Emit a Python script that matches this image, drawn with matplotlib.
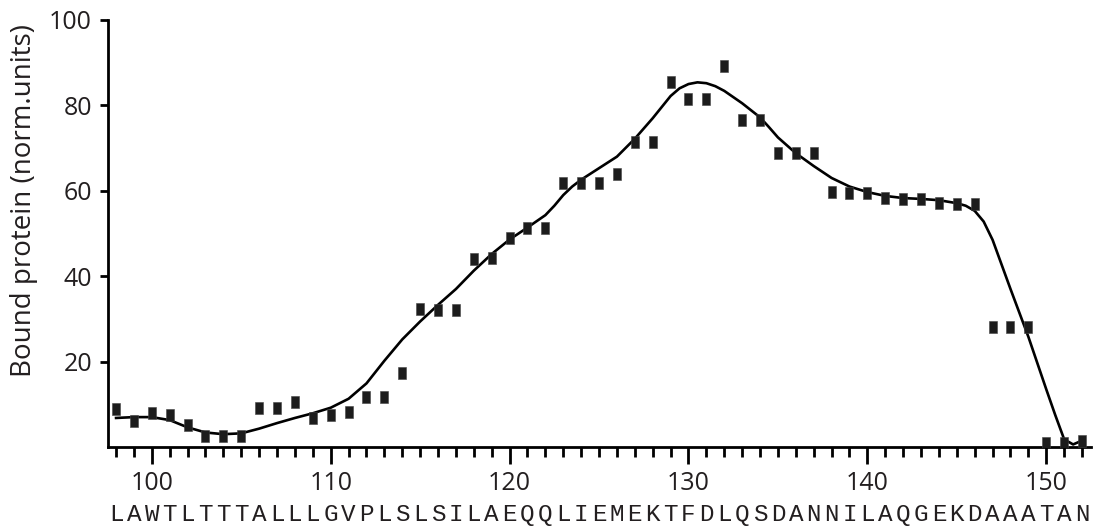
import matplotlib.pyplot as plt
from matplotlib.ticker import MultipleLocator

# residue positions and measured binding
residues = list(range(98, 153))
bound = [8.9, 6.1, 8.0, 7.5, 5.2, 2.6, 2.5, 2.5, 9.2, 9.2,
         10.5, 6.7, 7.5, 8.2, 11.6, 11.8, 17.3, 32.3, 32.1, 32.1,
         44.0, 44.3, 49.0, 51.3, 51.3, 61.8, 61.8, 61.8, 64.0, 71.5,
         71.5, 85.4, 81.4, 81.4, 89.3, 76.6, 76.6, 68.9, 68.9, 68.9,
         59.7, 59.5, 59.5, 58.3, 58.1, 58.0, 57.1, 57.0, 57.0, 28.1,
         28.0, 28.0, 0.9, 0.9, 1.4]

# smoothed fit
fit_x = [98, 99, 100, 101, 102, 103, 104, 105, 106, 107, 108, 109, 110,
         111, 112, 113, 114, 115, 116, 117, 118, 119, 120, 121, 122, 122.5,
         123, 123.5, 124, 125, 126, 127, 128, 129, 129.5, 130, 130.5, 131,
         131.5, 132, 133, 134, 134.5, 135, 136, 137, 138, 139, 140, 141, 142,
         143, 144, 145, 145.5, 146, 146.5, 147, 148, 149, 150, 150.5, 151,
         151.5, 152]
fit_y = [6.8, 7.0, 7.0, 6.3, 4.6, 3.4, 3.0, 3.2, 4.3, 5.6, 6.8, 7.9, 9.2,
         11.3, 14.9, 20.2, 25.2, 29.4, 33.3, 37.0, 41.3, 45.2, 48.6, 51.4, 54.3, 56.5,
         59.0, 61.0, 62.6, 65.3, 68.0, 72.2, 77.0, 82.2, 84.0, 85.0, 85.4, 85.2,
         84.5, 83.4, 80.5, 77.2, 74.9, 72.5, 68.8, 65.8, 63.0, 61.0, 59.7, 58.8, 58.3,
         58.1, 57.8, 57.1, 56.5, 55.3, 52.8, 48.5, 37.0, 25.8, 13.5, 7.5, 1.8,
         0.6, 1.5]

sequence = "LAWTLTTTALLLGVPLSLSILAEQQLIEMEKTFDLQSDANNILAQGEKDAAATAN"

plt.rcParams['font.family'] = ['Open Sans', 'DejaVu Sans']

fig = plt.figure(figsize=(10.95, 5.26), dpi=100)
ax = fig.add_axes([108/1095, 1 - 447/526, 983/1095, 427/526])

rect = [(-0.3, -0.5), (0.3, -0.5), (0.3, 0.5), (-0.3, 0.5), (-0.3, -0.5)]
ax.plot(fit_x, fit_y, color='black', lw=1.9, zorder=2)
ax.plot(residues, bound, ls='none', marker=rect, markersize=8.5,
        color='#1c1c1c', markeredgecolor='#444444', markeredgewidth=0.4, zorder=3)

ax.set_xlim(97.55, 152.5)
ax.set_ylim(0, 100)
ax.spines['top'].set_visible(False)
ax.spines['right'].set_visible(False)
for s in ('left', 'bottom'):
    ax.spines[s].set_linewidth(2.0)

ax.xaxis.set_major_locator(MultipleLocator(10))
ax.xaxis.set_minor_locator(MultipleLocator(1))
ax.set_yticks([20, 40, 60, 80, 100])
ax.tick_params(axis='x', which='major', length=12, width=2.0, labelsize=18, pad=5,
               labelcolor='#231f20')
ax.tick_params(axis='x', which='minor', length=7.5, width=2.0)
ax.tick_params(axis='y', which='major', length=6, width=2.0, labelsize=18, pad=5.5,
               labelcolor='#231f20')

ax.set_ylabel('Bound protein (norm.units)', fontsize=20, color='#231f20')
ax.yaxis.set_label_coords(-70/983, 0.578)

# one letter under each residue tick
for pos, aa in zip(residues, sequence):
    ax.text(pos, -0.1733, aa, transform=ax.get_xaxis_transform(),
            ha='center', va='baseline', fontsize=17.5, family='Liberation Mono',
            color='#231f20')

fig.savefig('out.png', dpi=100)
